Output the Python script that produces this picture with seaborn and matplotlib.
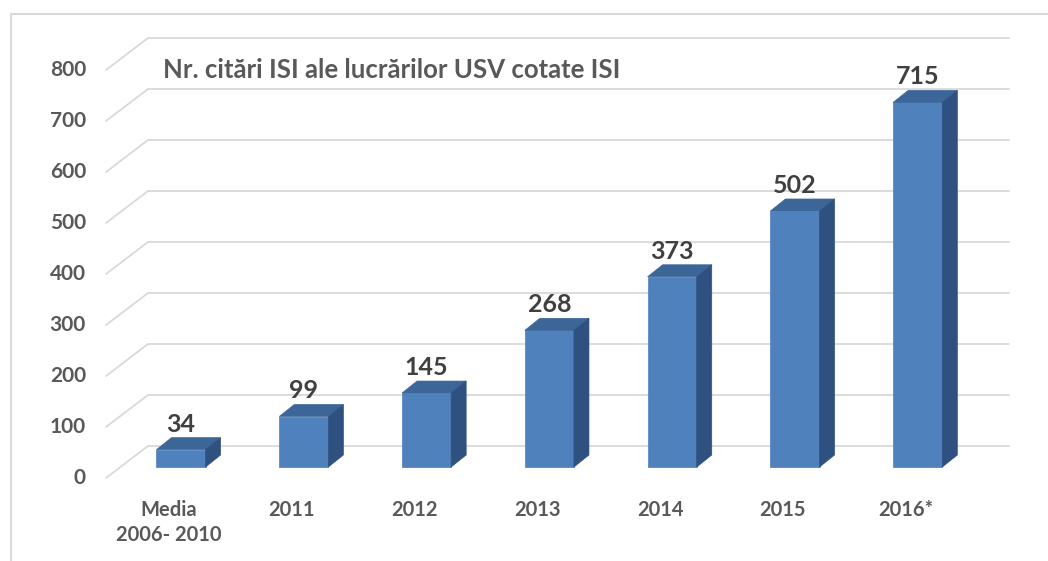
import matplotlib
matplotlib.use("Agg")
import matplotlib.pyplot as plt
import seaborn as sns
from matplotlib.patches import Polygon
from matplotlib.lines import Line2D
from matplotlib.transforms import ScaledTranslation

categories = ["Media\n2006- 2010", "2011", "2012", "2013", "2014", "2015", "2016*"]
citations = [34, 99, 145, 268, 373, 502, 715]
y_ticks = [0, 100, 200, 300, 400, 500, 600, 700, 800]
title = "Nr. citări ISI ale lucrărilor USV cotate ISI"

FRONT = "#4F81BD"
TOP = "#3C6598"
SIDE = "#2F5180"
GRID = "#D9D9D9"
TEXT = "#595959"
VALUE = "#404040"

# pixel depths of the fake 3d look
BAR_DX, BAR_DY = 15, 12
FLOOR_DX, FLOOR_BACK, FLOOR_FRONT = 42, 21, 11


def main():
    sns.set_style("white")
    plt.rcParams["font.family"] = ["Lato", "DejaVu Sans"]

    W, H = 1048, 561
    fig = plt.figure(figsize=(W / 100, H / 100), dpi=100)
    ax = fig.add_axes([106 / W, 71 / H, 903 / W, 460 / H])

    sns.barplot(x=categories, y=citations, color=FRONT, saturation=1,
                width=0.4, ax=ax, zorder=3, edgecolor="#5A8AC4", linewidth=0.6)
    ax.set_xlim(-0.611, 6.743)
    ax.set_ylim(-45.1, 856.9)

    # data units per pixel
    sx = (6.743 + 0.611) / 903
    sy = (856.9 + 45.1) / 460
    xmin = ax.get_xlim()[0]
    xmax = ax.get_xlim()[1]

    # floor / back wall gridlines
    for v in y_ticks:
        yb = v + FLOOR_BACK * sy
        yf = v - FLOOR_FRONT * sy
        xb = xmin + FLOOR_DX * sx
        ax.plot([xmin, xb], [yf, yb], color=GRID, lw=1.3, zorder=0, clip_on=False)
        ax.plot([xb, xmax], [yb, yb], color=GRID, lw=1.3, zorder=0, clip_on=False)
        ax.text(-20 / 903, yf, str(v), transform=ax.get_yaxis_transform(),
                ha="right", va="center", fontsize=15, fontweight="bold", color=TEXT)

    # 3d top and side faces built from the seaborn bars
    dx, dy = BAR_DX * sx, BAR_DY * sy
    for patch, val in zip(ax.patches, citations):
        x0, w, h = patch.get_x(), patch.get_width(), patch.get_height()
        top = [(x0, h), (x0 + w, h), (x0 + w + dx, h + dy), (x0 + dx, h + dy)]
        side = [(x0 + w, 0), (x0 + w, h), (x0 + w + dx, h + dy), (x0 + w + dx, dy)]
        ax.add_patch(Polygon(top, closed=True, fc=TOP, ec=TOP, lw=0.5, zorder=4))
        ax.add_patch(Polygon(side, closed=True, fc=SIDE, ec=SIDE, lw=0.5, zorder=4))
        ax.annotate(str(val), (x0 + w / 2, h), xytext=(0, 13), textcoords="offset points",
                    ha="center", va="baseline", fontsize=18, fontweight="bold", color=VALUE)

    ax.set_yticks([])
    ax.tick_params(axis="x", length=0, pad=7)
    ax.set_xticks(range(len(categories)))
    ax.set_xticklabels(categories, fontsize=14.5, fontweight="bold", color=TEXT, linespacing=1.35)
    shift = ScaledTranslation(-12 / 100, 0, fig.dpi_scale_trans)
    for lab in ax.get_xticklabels():
        lab.set_transform(lab.get_transform() + shift)
    ax.set_xlabel("")
    ax.set_ylabel("")
    sns.despine(ax=ax, left=True, bottom=True)

    ax.text(163 / W, 1 - 70 / H, title, transform=fig.transFigure, ha="left", va="center",
            fontsize=18.5, fontweight="bold", color=TEXT)

    # chart area border
    fig.add_artist(Line2D([11 / W, 11 / W], [0, 1 - 14 / H], color=GRID, lw=1.5))
    fig.add_artist(Line2D([11 / W, 1], [1 - 14 / H, 1 - 14 / H], color=GRID, lw=1.5))

    fig.savefig("out.png", dpi=100)
    plt.close(fig)


if __name__ == "__main__":
    main()
